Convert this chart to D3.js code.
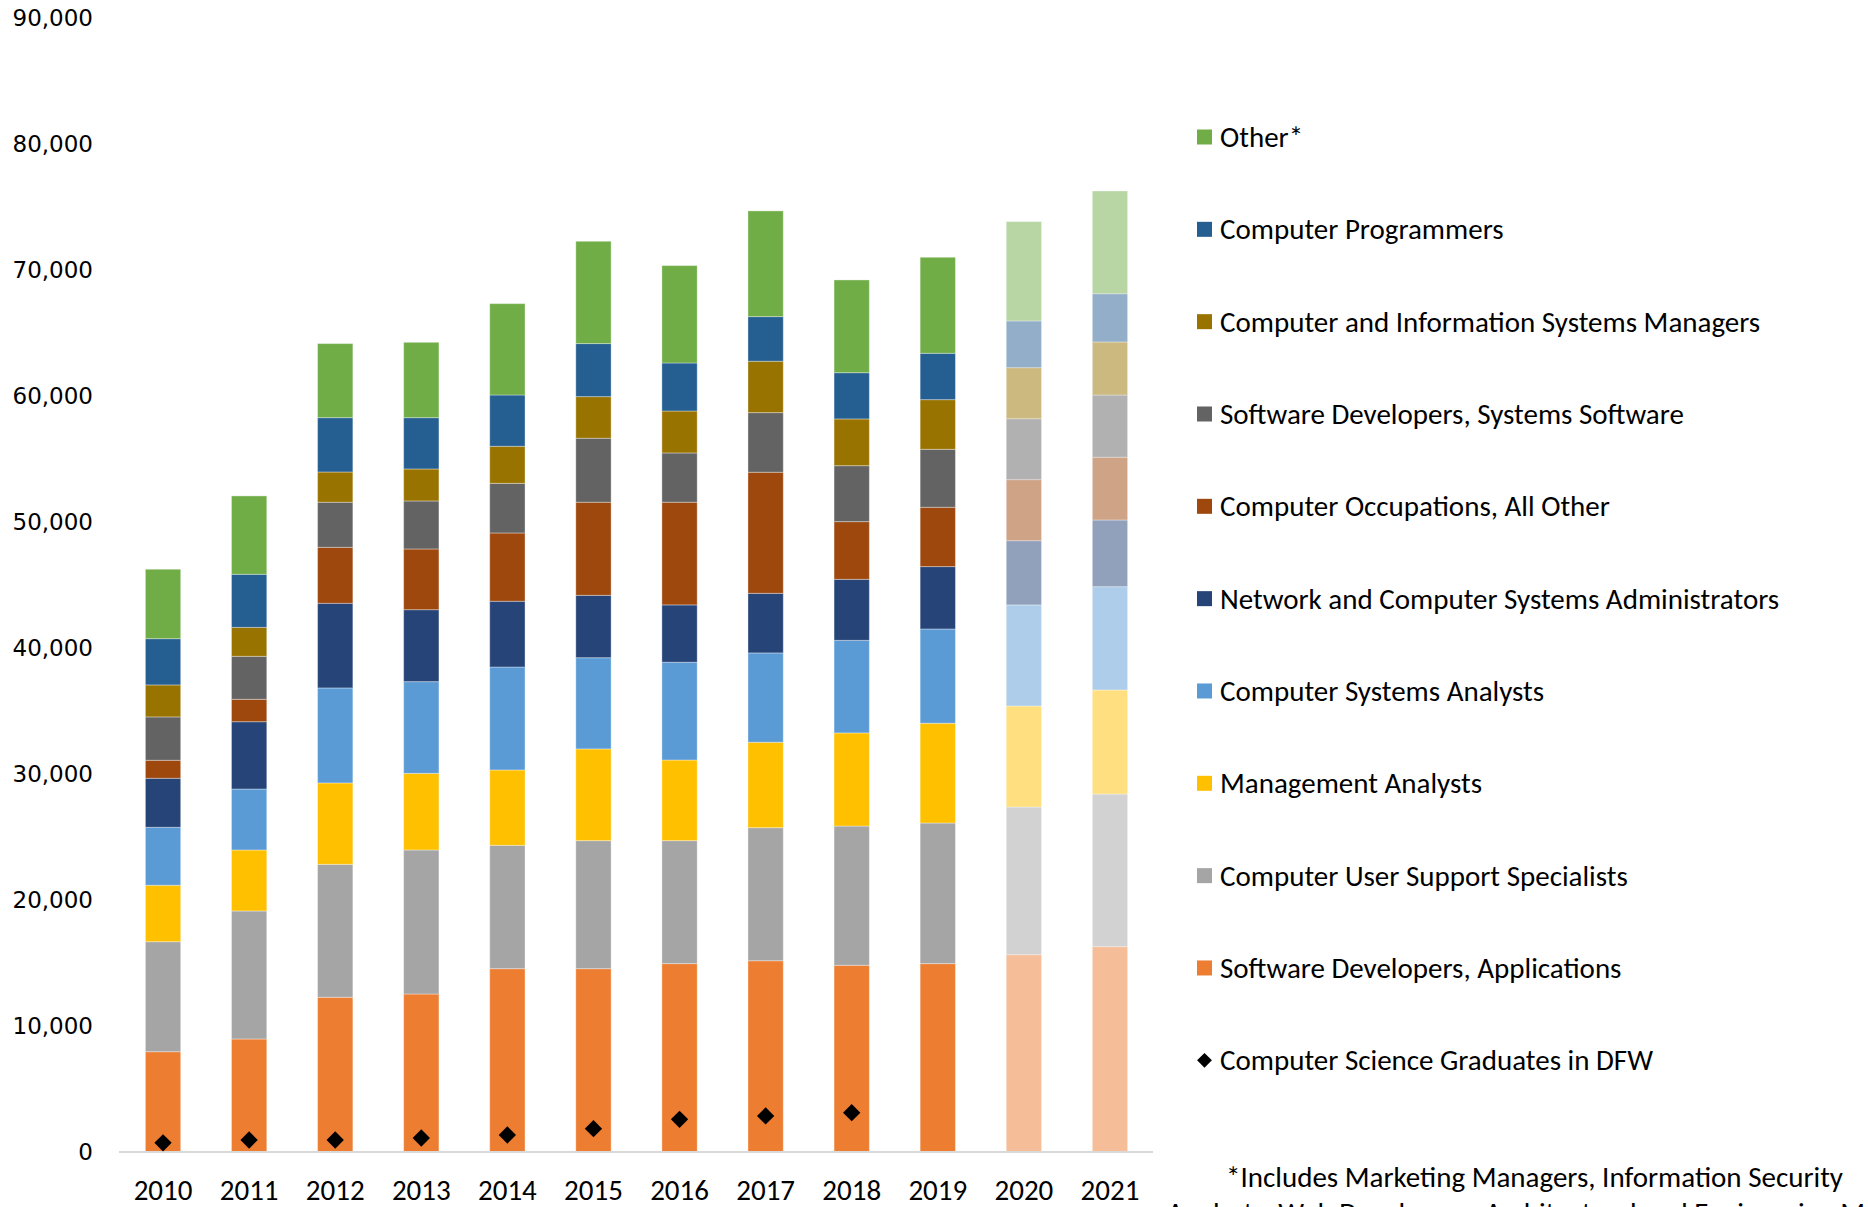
<!DOCTYPE html>
<html>
<head>
<meta charset="utf-8">
<script src="https://cdn.jsdelivr.net/npm/d3@7"></script>
<style>
  html, body { margin: 0; padding: 0; background: #fff; overflow: hidden; }
  svg { display: block; }
</style>
</head>
<body>
<svg id="chart" width="1868" height="1207"></svg>
<script>
// ---------------- DATA ----------------
const years = ["2010","2011","2012","2013","2014","2015","2016","2017","2018","2019","2020","2021"];
const projectedYears = ["2020","2021"];

const seriesNames = [
  "Software Developers, Applications",
  "Computer User Support Specialists",
  "Management Analysts",
  "Computer Systems Analysts",
  "Network and Computer Systems Administrators",
  "Computer Occupations, All Other",
  "Software Developers, Systems Software",
  "Computer and Information Systems Managers",
  "Computer Programmers",
  "Other*"
];
const seriesColors = ["#ED7D31","#A5A5A5","#FFC000","#5B9BD5","#264478","#9E480E","#636363","#997300","#255E91","#70AD47"];

const softwareDevApps   = [7960, 8970, 12280, 12540, 14550, 14550, 14950, 15180, 14820, 14950, 15660, 16300];
const userSupport       = [8730, 10160, 10550, 11430, 9790, 10160, 9760, 10560, 11050, 11160, 11720, 12110];
const managementAnalyst = [4480, 4840, 6460, 6080, 5980, 7280, 6400, 6780, 7390, 7920, 8020, 8260];
const systemsAnalysts   = [4600, 4840, 7540, 7280, 8170, 7240, 7760, 7090, 7350, 7480, 8020, 8200];
const networkAdmins     = [3890, 5340, 6720, 5710, 5220, 4950, 4550, 4730, 4840, 4950, 5100, 5290];
const allOtherOccup     = [1430, 1780, 4440, 4820, 5420, 7390, 8150, 9610, 4580, 4710, 4840, 4980];
const systemsSoftware   = [3440, 3410, 3580, 3810, 3940, 5080, 3910, 4730, 4440, 4600, 4840, 4940];
const isManagers        = [2540, 2300, 2400, 2540, 2940, 3300, 3330, 4080, 3710, 3940, 4050, 4210];
const programmers       = [3670, 4210, 4310, 4070, 4070, 4210, 3810, 3540, 3670, 3680, 3710, 3830];
const otherOccup        = [5510, 6220, 5880, 5980, 7250, 8120, 7730, 8390, 7360, 7620, 7880, 8150];

const graduatesLabel = "Computer Science Graduates in DFW";
const graduateYears  = ["2010","2011","2012","2013","2014","2015","2016","2017","2018"];
const graduates      = [730, 950, 950, 1110, 1350, 1850, 2590, 2860, 3120];

const yTicks = [0,10000,20000,30000,40000,50000,60000,70000,80000,90000];
const footnoteLines = [
  "*Includes Marketing Managers, Information Security",
  "Analysts, Web Developers, Architectural and Engineering Managers"
];

// ---------------- BUILD ----------------
const seriesValues = [softwareDevApps, userSupport, managementAnalyst, systemsAnalysts, networkAdmins,
                      allOtherOccup, systemsSoftware, isManagers, programmers, otherOccup];
const table = years.map((y, i) => {
  const row = { year: y };
  seriesNames.forEach((n, k) => row[n] = seriesValues[k][i]);
  return row;
});
const stacked = d3.stack().keys(seriesNames)(table);

const svg = d3.select("#chart");
const calibri = "Carlito, Lato, 'Open Sans', sans-serif";
const fs = 29;

const x = d3.scaleBand().domain(years).range([120, 1153]).paddingInner(0.59).paddingOuter(0.295);
const y = d3.scaleLinear().domain([0, 90000]).range([1152, 18]);
const color = d3.scaleOrdinal().domain(seriesNames).range(seriesColors);

// bars
const layers = svg.append("g").selectAll("g").data(stacked).join("g")
  .attr("fill", d => color(d.key));
layers.selectAll("rect").data(d => d).join("rect")
  .attr("x", d => x(d.data.year))
  .attr("width", x.bandwidth())
  .attr("y", d => y(d[1]))
  .attr("height", d => y(d[0]) - y(d[1]))
  .attr("fill-opacity", d => projectedYears.includes(d.data.year) ? 0.5 : 1)
  .attr("stroke", "#ffffff")
  .attr("stroke-opacity", 0.35)
  .attr("stroke-width", 1);

// x axis
const xAxis = svg.append("g").attr("transform", `translate(0,${y(0)})`)
  .call(d3.axisBottom(x).tickSize(0).tickPadding(0));
xAxis.select(".domain").attr("stroke", "#D9D9D9").attr("stroke-width", 2).attr("d", "M119,0H1153");
xAxis.selectAll("text")
  .attr("font-family", calibri).attr("font-size", fs).attr("fill", "#000")
  .attr("dy", null).attr("y", 48);

// y axis (labels only)
const yAxis = svg.append("g").attr("transform", "translate(93,0)")
  .call(d3.axisLeft(y).tickValues(yTicks).tickFormat(d3.format(",")).tickSize(0).tickPadding(0));
yAxis.select(".domain").remove();
yAxis.selectAll("text")
  .attr("font-family", "'DejaVu Sans', Verdana, sans-serif").attr("font-size", 23).attr("fill", "#000");

// graduates diamonds
const diamond = d3.symbol().type(d3.symbolSquare).size(150);
svg.append("g").selectAll("path").data(graduateYears.map((yr, i) => ({ yr, v: graduates[i] }))).join("path")
  .attr("d", diamond)
  .attr("transform", d => `translate(${x(d.yr) + x.bandwidth() / 2},${y(d.v)}) rotate(45)`)
  .attr("fill", "#000");

// legend
const legendItems = seriesNames.slice().reverse().map(n => ({ name: n, type: "rect" }))
  .concat([{ name: graduatesLabel, type: "diamond" }]);
const legend = svg.append("g").attr("font-family", calibri).attr("font-size", fs);
const li = legend.selectAll("g").data(legendItems).join("g")
  .attr("transform", (d, i) => `translate(1197,${137 + i * 92.33})`);
li.filter(d => d.type === "rect").append("rect")
  .attr("x", 0).attr("y", -7.5).attr("width", 15).attr("height", 15)
  .attr("fill", d => color(d.name));
li.filter(d => d.type === "diamond").append("path")
  .attr("d", d3.symbol().type(d3.symbolSquare).size(110))
  .attr("transform", "translate(7.5,0) rotate(45)")
  .attr("fill", "#000");
li.append("text").attr("x", 23).attr("dy", "0.35em").attr("fill", "#000").text(d => d.name);

// footnote
svg.append("g").attr("font-family", calibri).attr("font-size", fs).attr("fill", "#000")
  .selectAll("text").data(footnoteLines).join("text")
  .attr("x", (d, i) => i === 0 ? 1843 : 1167)
  .attr("y", (d, i) => 1177 + i * 36)
  .attr("dy", "0.35em")
  .attr("text-anchor", (d, i) => i === 0 ? "end" : "start")
  .text(d => d);
</script>
</body>
</html>
